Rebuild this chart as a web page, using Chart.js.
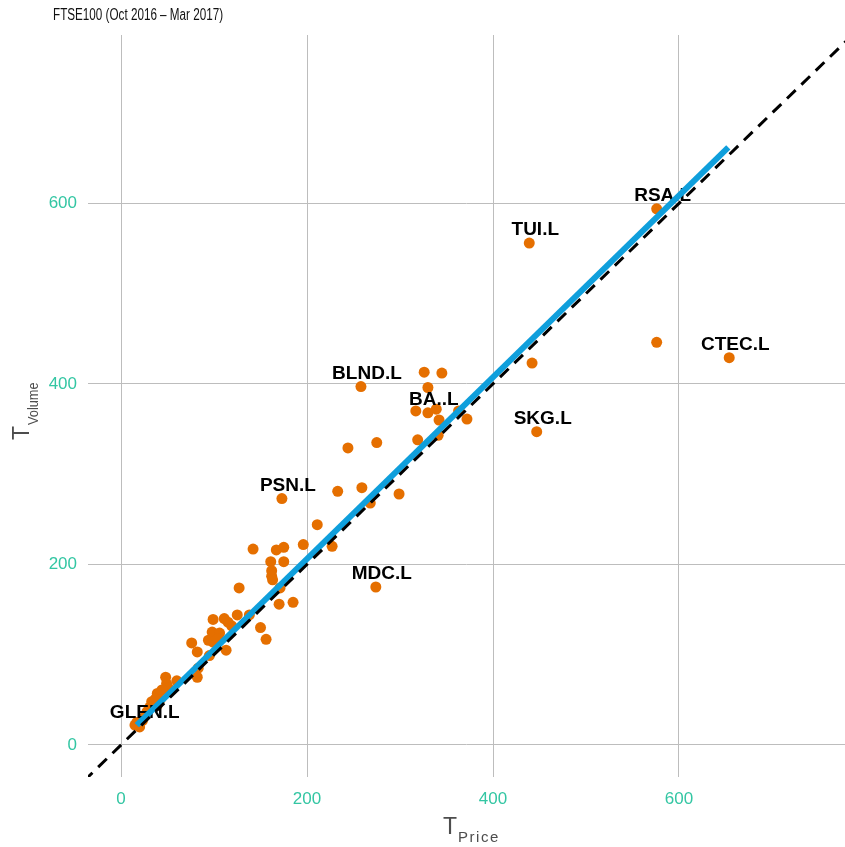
<!DOCTYPE html>
<html><head><meta charset="utf-8">
<script src="https://cdn.jsdelivr.net/npm/chart.js@4/dist/chart.umd.min.js"></script>
<style>html,body{margin:0;padding:0;background:#fff;overflow:hidden}canvas{display:block}</style>
</head><body><canvas id="c" width="845" height="847" style="width:845px;height:847px"></canvas>
<script>
// T_Price and T_Volume per stock
const tickers = ['RSA.L','TUI.L','CTEC.L','SKG.L','BLND.L','PSN.L','MDC.L','BA..L','GLEN.L',
  '','','','','','','','','','','','','','','','','','','','','','','','','','','','','','','','','','','','','','','','','','','','','','','','','','','','','','','','','','','','','','','','','','','',''];
const priceT = [576,439,654,447,258,173,274,330,19,
  576,442,326,345,330,317,339,342,363,372,319,341,244,275,233,259,299,268,211,196,227,142,167,175,161,175,162,162,163,171,127,170,185,150,156,138,125,119,115,111,99,98,106,94,99,76,82,95,113,83,82,60,48,49,51,44,39,37,33,39,31,28,15,17,23,20,24,42,104];
const volumeT = [594,556,429,347,397,273,175,368,21,
  446,423,413,412,396,370,372,360,370,361,338,343,329,335,281,285,278,268,244,222,220,217,216,219,203,203,193,187,183,174,174,156,158,130,117,144,144,132,136,140,139,125,124,116,114,113,103,99,105,85,75,71,75,68,63,61,57,51,48,44,42,37,22,25,27,20,30,50,118];
// fitted regression line end points
const fitPrice = [17, 653];
const fitVolume = [22, 662];
// reference line y = x
const refPrice = [-40, 800];
const refVolume = [-40, 800];
const tickValues = [0, 200, 400, 600];
const titleText = 'FTSE100 (Oct 2016 \u2013 Mar 2017)';

const scatterData = priceT.map((x, i) => ({x: x, y: volumeT[i]}));
const fitData = fitPrice.map((x, i) => ({x: x, y: fitVolume[i]}));
const refData = refPrice.map((x, i) => ({x: x, y: refVolume[i]}));

const FONT = "'Liberation Sans', Arial, sans-serif";

const labelPlugin = {
  id: 'stockLabels',
  afterDatasetDraw(chart, args) {
    if (args.index !== 0) return;
    const ctx = chart.ctx;
    const meta = chart.getDatasetMeta(0);
    ctx.save();
    ctx.font = "bold 19px " + FONT;
    ctx.fillStyle = '#000';
    ctx.textAlign = 'center';
    ctx.textBaseline = 'middle';
    tickers.forEach((t, i) => {
      if (!t) return;
      const p = meta.data[i];
      ctx.fillText(t, p.x + 6, p.y - 13);
    });
    ctx.restore();
  }
};

const textPlugin = {
  id: 'texts',
  afterDraw(chart) {
    const ctx = chart.ctx;
    ctx.save();
    // title (condensed)
    ctx.fillStyle = '#111';
    ctx.font = "16px " + FONT;
    ctx.textBaseline = 'alphabetic';
    ctx.textAlign = 'left';
    ctx.translate(53, 20);
    ctx.scale(0.73, 1);
    ctx.fillText(titleText, 0, 0);
    ctx.restore();

    // x title: T_Price
    ctx.save();
    ctx.fillStyle = '#4d4d4d';
    ctx.textAlign = 'left';
    ctx.textBaseline = 'alphabetic';
    ctx.font = "23px " + FONT;
    const wT = ctx.measureText('T').width;
    const sx = 443;
    ctx.fillText('T', sx, 834);
    ctx.font = "15px " + FONT;
    ctx.letterSpacing = '1.5px';
    ctx.fillText('Price', sx + wT + 1, 842);
    ctx.restore();

    // y title: T_Volume (rotated)
    ctx.save();
    ctx.fillStyle = '#4d4d4d';
    ctx.textAlign = 'left';
    ctx.textBaseline = 'alphabetic';
    ctx.translate(0, 440);
    ctx.rotate(-Math.PI / 2);
    ctx.font = "23px " + FONT;
    const wT2 = ctx.measureText('T').width;
    ctx.fillText('T', 0, 29);
    ctx.font = "15px " + FONT;
    ctx.translate(wT2 + 1, 37.5);
    ctx.scale(0.85, 1);
    ctx.fillText('Volume', 0, 0);
    ctx.restore();
  }
};

new Chart(document.getElementById('c'), {
  type: 'scatter',
  data: {
    datasets: [
      {data: scatterData, backgroundColor: '#e56f00', borderColor: '#e56f00', borderWidth: 0,
       pointRadius: 5.5, pointHoverRadius: 5.5, order: 3},
      {type: 'line', data: fitData, borderColor: '#0f9fdc', borderWidth: 6, pointRadius: 0,
       showLine: true, fill: false, order: 2},
      {type: 'line', data: refData, borderColor: '#000000', borderWidth: 3, borderDash: [12, 8],
       pointRadius: 0, showLine: true, fill: false, order: 1}
    ]
  },
  options: {
    responsive: false,
    maintainAspectRatio: false,
    animation: false,
    events: [],
    devicePixelRatio: 1,
    layout: {autoPadding: false, padding: {top: 35, right: 0, left: 0, bottom: 0}},
    plugins: {legend: {display: false}, tooltip: {enabled: false}, title: {display: false}},
    scales: {
      x: {
        type: 'linear', min: -35.5, max: 778.5,
        afterBuildTicks: s => { s.ticks = tickValues.map(v => ({value: v})); },
        afterFit: s => { s.height = 70; s.paddingLeft = 0; s.paddingRight = 0; },
        grid: {color: '#bdbdbd', lineWidth: 1, drawTicks: false},
        border: {display: false},
        ticks: {color: '#33c6a3', font: {family: FONT, size: 17}, padding: 12, maxRotation: 0}
      },
      y: {
        type: 'linear', min: -35.5, max: 786.5,
        afterBuildTicks: s => { s.ticks = tickValues.map(v => ({value: v})); },
        afterFit: s => { s.width = 88; s.paddingTop = 0; s.paddingBottom = 0; },
        grid: {color: '#bdbdbd', lineWidth: 1, drawTicks: false},
        border: {display: false},
        ticks: {color: '#33c6a3', font: {family: FONT, size: 17}, padding: 11}
      }
    }
  },
  plugins: [labelPlugin, textPlugin]
});
</script>
</body></html>
